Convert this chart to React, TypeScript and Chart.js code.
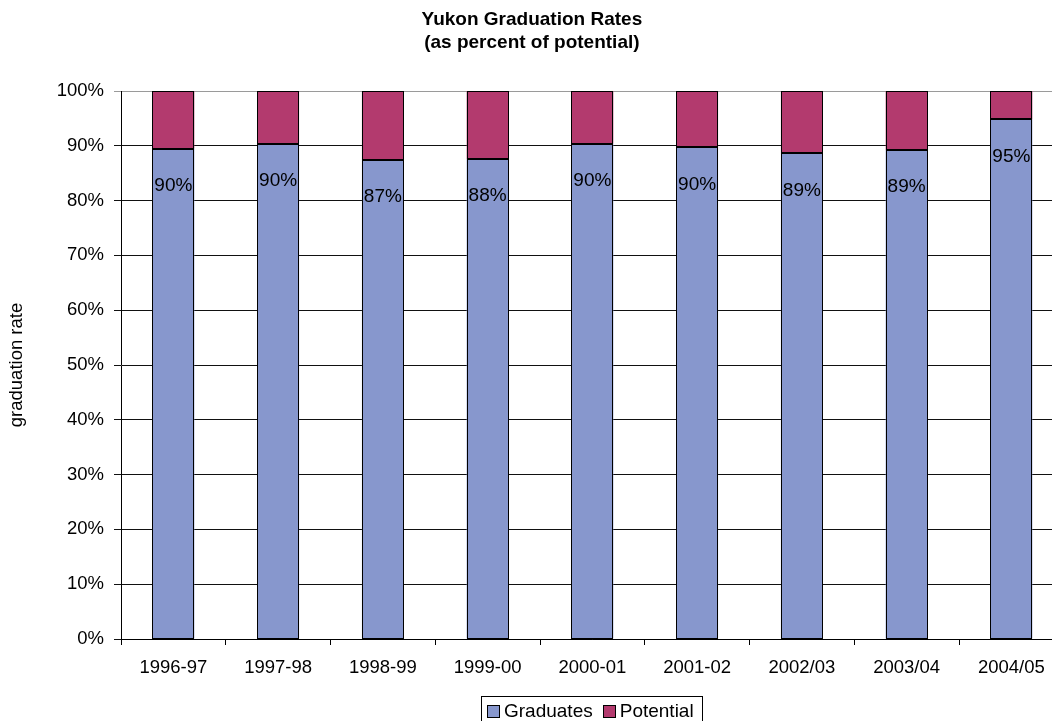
import React, { useEffect, useRef } from 'react';
import { Chart, registerables } from 'chart.js';

Chart.register(...registerables);

const categories = ['1996-97', '1997-98', '1998-99', '1999-00', '2000-01', '2001-02', '2002/03', '2003/04', '2004/05'];
const graduates = [89.5, 90.4, 87.4, 87.6, 90.4, 89.7, 88.6, 89.2, 94.8];
const potential = [10.5, 9.6, 12.6, 12.4, 9.6, 10.3, 11.4, 10.8, 5.2];
const titleLines = ['Yukon Graduation Rates', '(as percent of potential)'];
const yAxisTitle = 'graduation rate';
const seriesNames = ['Graduates', 'Potential'];

const FONT = '"Liberation Sans", Arial, Helvetica, sans-serif';
const COL_GRAD = '#8797CD';
const COL_POT = '#B33A6E';

const W = 1070;
const H = 721;

const barOutlinePlugin = {
  id: 'barOutline',
  afterDatasetsDraw(chart: any) {
    const ctx = chart.ctx;
    ctx.save();
    ctx.strokeStyle = '#000';
    ctx.lineWidth = 1;
    chart.data.datasets.forEach((_: any, di: number) => {
      const meta = chart.getDatasetMeta(di);
      meta.data.forEach((bar: any) => {
        const p = bar.getProps(['x', 'y', 'base', 'width'], true);
        const l = Math.round(p.x - p.width / 2) + 0.5;
        const r = Math.round(p.x + p.width / 2) - 0.5;
        const t = Math.round(Math.min(p.y, p.base)) + 0.5;
        const b = Math.round(Math.max(p.y, p.base)) - 0.5;
        ctx.strokeRect(l, t, r - l, b - t);
      });
    });
    ctx.restore();
  },
};

const dataLabelPlugin = {
  id: 'dataLabels',
  afterDatasetsDraw(chart: any) {
    const ctx = chart.ctx;
    const meta = chart.getDatasetMeta(0);
    ctx.save();
    ctx.font = `19px ${FONT}`;
    ctx.fillStyle = '#000';
    ctx.textAlign = 'center';
    ctx.textBaseline = 'middle';
    meta.data.forEach((bar: any, i: number) => {
      ctx.fillText(Math.round(graduates[i]) + '%', bar.x, bar.y + 37);
    });
    ctx.restore();
  },
};

const legendPlugin = {
  id: 'customLegend',
  afterDraw(chart: any) {
    const ctx = chart.ctx;
    ctx.save();
    ctx.font = `19px ${FONT}`;
    const colors = [COL_GRAD, COL_POT];
    const boxLeft = 481.5;
    const boxTop = 696.5;
    let x = boxLeft + 5.5;
    const items: { mx: number; tx: number }[] = [];
    seriesNames.forEach((name) => {
      const mx = x;
      const tx = mx + 17;
      items.push({ mx, tx });
      x = tx + ctx.measureText(name).width + 10;
    });
    const boxRight = Math.round(x - 2) + 0.5;
    ctx.strokeStyle = '#000';
    ctx.lineWidth = 1;
    ctx.strokeRect(boxLeft, boxTop, boxRight - boxLeft, 40);
    items.forEach((it, i) => {
      const mx = Math.round(it.mx) + 0.5;
      ctx.fillStyle = colors[i];
      ctx.fillRect(mx, 705.5, 12, 12);
      ctx.strokeStyle = '#000';
      ctx.strokeRect(mx, 705.5, 12, 12);
      ctx.fillStyle = '#000';
      ctx.textAlign = 'left';
      ctx.textBaseline = 'alphabetic';
      ctx.fillText(seriesNames[i], it.tx, 717);
    });
    ctx.restore();
  },
};

export default function App() {
  const ref = useRef<HTMLCanvasElement>(null);

  useEffect(() => {
    if (!ref.current) return;
    const chart = new Chart(ref.current, {
      type: 'bar',
      data: {
        labels: categories,
        datasets: [
          {
            label: seriesNames[0],
            data: graduates,
            backgroundColor: COL_GRAD,
            borderWidth: 0,
            barPercentage: 0.4,
            categoryPercentage: 1,
          },
          {
            label: seriesNames[1],
            data: potential,
            backgroundColor: COL_POT,
            borderWidth: 0,
            barPercentage: 0.4,
            categoryPercentage: 1,
          },
        ],
      },
      options: {
        animation: false,
        responsive: false,
        devicePixelRatio: 1,
        layout: { padding: { left: 0, right: 6.25, top: 0, bottom: 0 } },
        plugins: {
          legend: { display: false },
          tooltip: { enabled: false },
          title: {
            display: true,
            text: titleLines,
            color: '#000',
            font: { family: FONT, size: 19, weight: 'bold', lineHeight: 23 / 19 },
            padding: { top: 8.5, bottom: 36.5 },
          },
        },
        scales: {
          x: {
            stacked: true,
            offset: true,
            grid: {
              offset: true,
              drawOnChartArea: false,
              drawTicks: true,
              tickLength: 6,
              color: '#000',
            },
            border: { display: true, color: '#000', width: 1 },
            ticks: {
              color: '#000',
              font: { family: FONT, size: 18.5 },
              padding: 12,
              maxRotation: 0,
              autoSkip: false,
            },
            afterFit(scale: any) {
              scale.height = H - 639;
            },
          },
          y: {
            stacked: true,
            min: 0,
            max: 100,
            grid: {
              drawOnChartArea: true,
              drawTicks: true,
              tickLength: 7,
              color: (c: any) => (c.tick && c.tick.value === 100 ? '#9a9a9a' : '#111'),
            },
            border: { display: true, color: '#000', width: 1 },
            ticks: {
              stepSize: 10,
              color: '#000',
              font: { family: FONT, size: 18.5 },
              padding: 10,
              callback: (v: any) => v + '%',
            },
            title: {
              display: true,
              text: yAxisTitle,
              color: '#000',
              font: { family: FONT, size: 18.5 },
              padding: { top: 6, bottom: 0 },
            },
            afterFit(scale: any) {
              scale.width = 121;
            },
          },
        },
      },
      plugins: [barOutlinePlugin, dataLabelPlugin, legendPlugin],
    } as any);
    return () => chart.destroy();
  }, []);

  return (
    <div
      style={{
        position: 'fixed',
        left: 0,
        top: 0,
        width: 1052,
        height: 721,
        overflow: 'hidden',
        background: '#fff',
      }}
    >
      <canvas ref={ref} width={W} height={H} style={{ width: W, height: H, display: 'block' }} />
    </div>
  );
}
